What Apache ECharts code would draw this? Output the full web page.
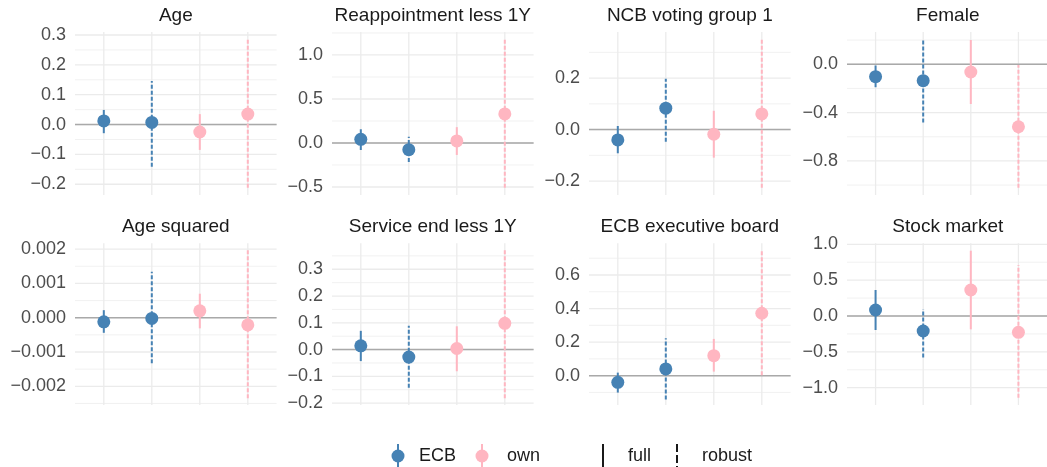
<!DOCTYPE html>
<html><head><meta charset="utf-8">
<script src="https://cdn.jsdelivr.net/npm/echarts@6/dist/echarts.min.js"></script>
<style>html,body{margin:0;padding:0;background:#fff}#c{width:1047px;height:467px}</style>
</head><body><div id="c"></div>
<script>
// ---------- data ----------
const panelTitles = ["Age", "Reappointment less 1Y", "NCB voting group 1", "Female",
                     "Age squared", "Service end less 1Y", "ECB executive board", "Stock market"];
const modelNames = ["ECB full", "ECB robust", "own full", "own robust"];
const xPos = [1, 2, 3, 4];

const ecbFullEst = [0.012, 0.042, -0.040, -0.103, -0.00012, 0.014, -0.040, 0.084];
const ecbFullLo  = [-0.029, -0.080, -0.092, -0.190, -0.00044, -0.043, -0.101, -0.195];
const ecbFullHi  = [0.049, 0.156, 0.014, -0.010, 0.00022, 0.070, 0.018, 0.363];

const ecbRobEst = [0.007, -0.076, 0.083, -0.136, -0.00002, -0.028, 0.040, -0.209];
const ecbRobLo  = [-0.141, -0.216, -0.047, -0.483, -0.00133, -0.143, -0.142, -0.580];
const ecbRobHi  = [0.146, 0.072, 0.197, 0.207, 0.00134, 0.089, 0.223, 0.093];

const ownFullEst = [-0.025, 0.023, -0.018, -0.064, 0.00020, 0.004, 0.119, 0.363];
const ownFullLo  = [-0.085, -0.136, -0.109, -0.329, -0.00031, -0.081, 0.024, -0.186];
const ownFullHi  = [0.035, 0.180, 0.073, 0.201, 0.00070, 0.087, 0.219, 0.911];

const ownRobEst = [0.035, 0.330, 0.061, -0.517, -0.00021, 0.098, 0.372, -0.228];
const ownRobLo  = [-0.212, -0.508, -0.226, -1.022, -0.00235, -0.182, 0.002, -1.140];
const ownRobHi  = [0.286, 1.178, 0.350, -0.006, 0.00198, 0.372, 0.745, 0.711];

// panel y limits
const yMin = [-0.236, -0.591, -0.254, -1.082, -0.002545, -0.207, -0.175, -1.241];
const yMax = [0.310, 1.261, 0.379, 0.267, 0.00217, 0.397, 0.789, 1.014];

const majorTicks = [
  [-0.2, -0.1, 0, 0.1, 0.2, 0.3],
  [-0.5, 0, 0.5, 1.0],
  [-0.2, 0, 0.2],
  [-0.8, -0.4, 0],
  [-0.002, -0.001, 0, 0.001, 0.002],
  [-0.2, -0.1, 0, 0.1, 0.2, 0.3],
  [0, 0.2, 0.4, 0.6],
  [-1.0, -0.5, 0, 0.5, 1.0]
];
const tickLabels = [
  ["\u22120.2", "\u22120.1", "0.0", "0.1", "0.2", "0.3"],
  ["\u22120.5", "0.0", "0.5", "1.0"],
  ["\u22120.2", "0.0", "0.2"],
  ["\u22120.8", "\u22120.4", "0.0"],
  ["\u22120.002", "\u22120.001", "0.000", "0.001", "0.002"],
  ["\u22120.2", "\u22120.1", "0.0", "0.1", "0.2", "0.3"],
  ["0.0", "0.2", "0.4", "0.6"],
  ["\u22121.0", "\u22120.5", "0.0", "0.5", "1.0"]
];
const minorTicks = [
  [-0.25, -0.15, -0.05, 0.05, 0.15, 0.25],
  [-0.75, -0.25, 0.25, 0.75, 1.25],
  [-0.3, -0.1, 0.1, 0.3],
  [-1.2, -1.0, -0.6, -0.2, 0.2],
  [-0.0025, -0.0015, -0.0005, 0.0005, 0.0015],
  [-0.25, -0.15, -0.05, 0.05, 0.15, 0.25, 0.35],
  [-0.1, 0.1, 0.3, 0.5, 0.7],
  [-1.25, -0.75, -0.25, 0.25, 0.75]
];

const legendGroups = ["ECB", "own"];
const legendTypes = ["full", "robust"];

// ---------- layout / style ----------
const FONT = "'Liberation Sans', Arial, Helvetica, sans-serif";
const BLUE = '#4682B4', PINK = '#FFB6C1';
const colLeft = [75, 332, 589, 847];
const rowTop = [32, 243.3];
const rowH = [163, 161.7];
const plotW = 201.6;
const titleY = [16, 226.7];

const chart = echarts.init(document.getElementById('c'), null, {renderer: 'canvas'});
const grids = [], xAxes = [], yAxes = [], series = [], graphics = [];

function labelFor(i, v) {
  const t = majorTicks[i];
  for (let k = 0; k < t.length; k++) if (Math.abs(t[k] - v) < 1e-9) return tickLabels[i][k];
  return '';
}

for (let i = 0; i < 8; i++) {
  const r = Math.floor(i / 4), c = i % 4;
  grids.push({left: colLeft[c], top: rowTop[r], width: plotW, height: rowH[r], containLabel: false});
  xAxes.push({gridIndex: i, type: 'value', min: 0.4, max: 4.6, show: false});
  yAxes.push({
    gridIndex: i, type: 'value', min: yMin[i], max: yMax[i],
    axisLine: {show: false}, axisTick: {show: false}, splitLine: {show: false},
    axisLabel: {
      customValues: majorTicks[i],
      formatter: (v) => labelFor(i, v),
      color: '#4d4d4d', fontSize: 18, fontFamily: FONT, margin: 9
    }
  });

  // gridlines + zero line
  const gl = [];
  minorTicks[i].filter(v => v > yMin[i] && v < yMax[i]).forEach(v => gl.push([0.4, v, 4.6, v, 1]));
  majorTicks[i].forEach(v => gl.push([0.4, v, 4.6, v, 0]));
  xPos.forEach(x => gl.push([x, yMin[i], x, yMax[i], 0]));
  gl.push([0.4, 0, 4.6, 0, 2]);
  series.push({
    type: 'custom', xAxisIndex: i, yAxisIndex: i, z: 1, silent: true,
    data: gl,
    renderItem: (params, api) => {
      const p1 = api.coord([api.value(0), api.value(1)]);
      const p2 = api.coord([api.value(2), api.value(3)]);
      const k = api.value(4);
      return {type: 'line', shape: {x1: p1[0], y1: p1[1], x2: p2[0], y2: p2[1]},
        style: {stroke: k === 2 ? '#a9a9a9' : '#ebebeb', lineWidth: k === 0 ? 1.3 : (k === 1 ? 0.7 : 1.5)}};
    }
  });

  // error bars
  const eb = [
    [xPos[0], ecbFullLo[i], ecbFullHi[i], 0, 0],
    [xPos[1], ecbRobLo[i], ecbRobHi[i], 1, 0],
    [xPos[2], ownFullLo[i], ownFullHi[i], 0, 1],
    [xPos[3], ownRobLo[i], ownRobHi[i], 1, 1]
  ];
  series.push({
    type: 'custom', xAxisIndex: i, yAxisIndex: i, z: 2, silent: true,
    data: eb,
    renderItem: (params, api) => {
      const p1 = api.coord([api.value(0), api.value(1)]);
      const p2 = api.coord([api.value(0), api.value(2)]);
      const dashed = api.value(3) === 1;
      return {type: 'line', shape: {x1: p1[0], y1: p1[1], x2: p2[0], y2: p2[1]},
        style: {stroke: api.value(4) === 0 ? BLUE : PINK, lineWidth: 2, lineDash: dashed ? [4, 2] : null}};
    }
  });

  // points
  series.push({
    type: 'scatter', xAxisIndex: i, yAxisIndex: i, z: 3, silent: true,
    symbol: 'circle', symbolSize: 13, itemStyle: {color: BLUE, opacity: 1},
    data: [[xPos[0], ecbFullEst[i]], [xPos[1], ecbRobEst[i]]]
  });
  series.push({
    type: 'scatter', xAxisIndex: i, yAxisIndex: i, z: 3, silent: true,
    symbol: 'circle', symbolSize: 13, itemStyle: {color: PINK, opacity: 1},
    data: [[xPos[2], ownFullEst[i]], [xPos[3], ownRobEst[i]]]
  });

  // panel title
  graphics.push({
    type: 'text', x: colLeft[c] + plotW / 2, y: titleY[r],
    style: {text: panelTitles[i], fill: '#1a1a1a', font: '19px ' + FONT, textAlign: 'center', textVerticalAlign: 'middle'}
  });
}

// legend
const LY = 456;
const legendItems = [
  {x: 398, tx: 419, label: legendGroups[0], color: BLUE, dot: true, dash: null},
  {x: 482, tx: 507, label: legendGroups[1], color: PINK, dot: true, dash: null},
  {x: 603, tx: 628, label: legendTypes[0], color: '#000', dot: false, dash: null},
  {x: 677, tx: 702, label: legendTypes[1], color: '#000', dot: false, dash: [8, 3]}
];
legendItems.forEach(it => {
  graphics.push({type: 'line', shape: {x1: it.x, y1: LY - 12, x2: it.x, y2: LY + 12},
    style: {stroke: it.color, lineWidth: it.dot ? 2 : 1.8, lineDash: it.dash}});
  if (it.dot) graphics.push({type: 'circle', shape: {cx: it.x, cy: LY, r: 6.5}, style: {fill: it.color}});
  graphics.push({type: 'text', x: it.tx, y: LY,
    style: {text: it.label, fill: '#1a1a1a', font: '18px ' + FONT, textAlign: 'left', textVerticalAlign: 'middle'}});
});

chart.setOption({
  animation: false,
  backgroundColor: '#ffffff',
  grid: grids, xAxis: xAxes, yAxis: yAxes, series: series,
  graphic: graphics
});
</script></body></html>
